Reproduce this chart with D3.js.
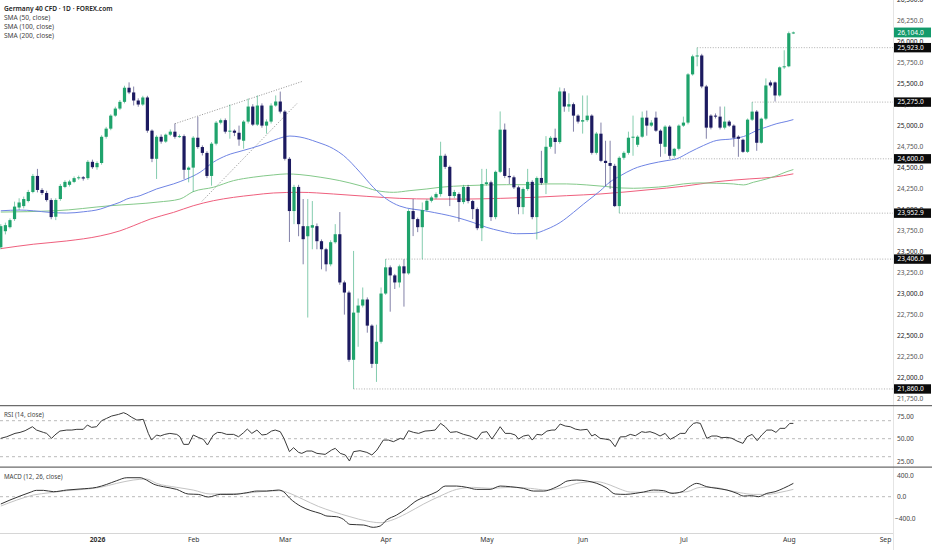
<!DOCTYPE html>
<html lang="en">
<head>
<meta charset="UTF-8">
<title>Germany 40 CFD · 1D · FOREX.com</title>
<script src="https://cdn.jsdelivr.net/npm/d3@7"></script>
<style>
  html, body { margin: 0; padding: 0; background: #fff; }
  svg { display: block; font-family: "Noto Sans", "Open Sans", sans-serif; }
</style>
</head>
<body>
<div id="chart"></div>
<script>
// daily bars, [open, high, low, close], first bar = 1 Dec 2025
var ohlc = [
  [23547,23822,23523,23798],[23738,23840,23700,23810],[23786,23890,23770,23870],[23882,24090,23860,24031],
  [24020,24130,23990,24080],[24037,24150,24010,24121],[24097,24230,24080,24205],[24205,24420,24190,24396],
  [24396,24480,24200,24229],[24229,24250,24170,24193],[24193,24220,24090,24109],[24109,24130,23880,23906],
  [23910,24130,23870,24110],[24121,24300,24100,24277],[24265,24345,24250,24325],[24290,24350,24270,24330],
  [24325,24390,24310,24370],[24370,24400,24350,24380],[24380,24395,24340,24365],[24370,24585,24350,24564],
  [24564,24590,24480,24500],[24500,24570,24470,24550],[24550,24880,24530,24862],[24862,24980,24840,24959],
  [24959,25130,24940,25114],[25114,25220,25100,25198],[25198,25300,25180,25278],[25278,25470,25260,25446],
  [25446,25510,25370,25390],[25390,25460,25235,25294],[25294,25320,25220,25246],[25246,25350,25230,25330],
  [25330,25350,24910,24935],[24935,24950,24560,24600],[24600,24880,24360,24862],[24862,24890,24780,24805],
  [24805,24900,24790,24887],[24887,24950,24870,24923],[24923,25020,24840,24862],[24862,24890,24850,24870],
  [24870,24890,24360,24469],[24469,24510,24320,24495],[24495,24870,24205,24851],[24851,25100,24720,24740],
  [24740,24760,24640,24670],[24670,24690,24370,24396],[24396,24800,24280,24780],[24780,25050,24760,25030],
  [25030,25079,25010,25060],[25060,25080,24900,24923],[24923,25246,24839,24935],[24935,24950,24870,24910],
  [24910,24995,24755,24830],[24815,25060,24720,25043],[25043,25318,25020,25222],[25222,25250,24990,25007],
  [25007,25354,24990,25234],[25234,25260,24970,24995],[24995,25070,24900,25043],[25043,25260,25020,25234],
  [25234,25354,25220,25282],[25282,25400,25140,25162],[25162,25180,24580,24600],[24600,24620,23610,23978],
  [23978,24290,23822,24265],[24265,24290,23678,23822],[23798,24121,23344,23643],[23678,24121,22710,23798],
  [23780,24097,23523,23810],[23798,23830,23523,23619],[23619,23640,23284,23523],[23523,23540,23260,23344],
  [23344,23630,23320,23607],[23607,23822,23590,23702],[23702,23966,23100,23128],[23128,23150,22745,23008],
  [23008,23030,22183,22207],[22207,23503,21860,22769],[22769,22937,22362,22853],[22853,23068,22830,22925],
  [22925,22950,22530,22614],[22614,22630,22110,22159],[22159,22625,21944,22422],[22422,23068,22400,22996],
  [22996,23406,22980,23308],[23308,23330,22780,23212],[23212,23230,23050,23128],[23128,23340,23068,23320],
  [23320,23404,22840,23236],[23236,24000,23220,23978],[23978,24121,23680,23882],[23882,23900,23727,23786],
  [23786,24080,23404,23990],[23990,24120,23970,24100],[24100,24160,24080,24140],[24140,24200,24120,24180],
  [24180,24803,24150,24636],[24636,24660,24480,24504],[24504,24520,24037,24157],[24157,24230,24130,24205],
  [24180,24200,23850,24085],[24085,24290,24060,24265],[24265,24290,24070,24097],[24097,24110,23882,24001],
  [24001,24020,23750,23774],[23774,24480,23620,24300],[24300,24480,24280,24320],[24320,24340,23860,23906],
  [23906,24460,23880,24445],[24445,25164,24430,24947],[24947,25020,24370,24396],[24396,24490,24300,24380],
  [24380,24400,24240,24260],[24260,24280,23940,24025],[24025,24260,23940,24240],[24240,24480,24220,24325],
  [24325,24345,23880,23906],[23906,24390,23640,24372],[24372,24695,24290,24313],[24313,24870,24180,24743],
  [24743,24870,24720,24850],[24850,24959,24660,24800],[24800,25450,24780,25402],[25402,25440,25160,25222],
  [25222,25380,25160,25250],[25250,25270,24923,25114],[25114,25130,25020,25043],[25043,25354,24900,25060],
  [25060,25354,25040,25114],[25114,25130,24650,24671],[24671,24920,24650,24900],[24899,25031,24560,24576],
  [24576,24815,24277,24550],[24550,24815,24241,24516],[24516,24540,24025,24037],[24037,24630,23952.9,24612],
  [24612,24690,24590,24671],[24671,24923,24650,24851],[24851,25114,24636,24863],[24767,24880,24740,24863],
  [24863,25162,24850,25090],[25090,25174,24875,24995],[24995,25060,24980,25031],[25090,25162,24920,24935],
  [24935,24950,24624,24779],[24743,25000,24660,24983],[24983,25000,24600,24636],[24636,24730,24612,24719],
  [24719,25010,24700,24995],[24995,25102,24980,25031],[25031,25620,25010,25605],[25605,25840,25590,25820],
  [25820,25923,25701,25830],[25830,25850,25440,25461],[25461,25480,24839,24971],[25114,25130,24950,24971],
  [25114,25140,25080,25102],[25102,25222,24950,24971],[24971,25222,24950,25043],[25043,25060,24980,24995],
  [24995,25010,24743,24851],[24863,24880,24624,24839],[24827,24840,24670,24683],[24683,25080,24670,25066],
  [25066,25275,25050,25162],[25162,25180,24695,24791],[24791,25090,24780,25078],[25078,25557,25060,25473],
  [25509,25533,25450,25473],[25509,25520,25282,25354],[25354,25700,25340,25689],[25689,25892,25670,25701],
  [25701,26115,25690,26095],[26095,26115,26085,26104]
];

// moving averages, [bar index, value]
var sma50 = [[0,23981],[4.2,23990],[7.1,23981],[10.7,23962],[14.4,23954],[18,23969],[21.7,24001],[23.8,24041],
  [26,24082],[27.5,24121],[30.4,24161],[34,24241],[37.7,24301],[40.6,24361],[43.5,24440],[46.4,24560],
  [49.3,24640],[52.9,24699],[56.6,24759],[59.5,24819],[61.7,24859],[63.1,24871],[65.3,24859],[69,24800],
  [72.6,24720],[74.8,24640],[78.4,24440],[81.3,24261],[84.2,24121],[87.1,24037],[93,23977],[99.5,23902],
  [103.1,23842],[106.1,23783],[109,23742],[112.6,23708],[116.2,23711],[119.2,23762],[122.1,23842],[125,23962],
  [127.2,24061],[128.6,24121],[130.8,24217],[133,24325],[135.2,24397],[138.1,24480],[141.7,24540],[145.4,24579],
  [147.5,24600],[150.4,24680],[153.4,24759],[156.3,24819],[159.9,24839],[162.8,24878],[165,24938],[167.2,24979],
  [169.4,25019],[171.6,25046],[173,25067]];
var sma100 = [[0,23966],[11.8,23981],[23.8,24041],[34.3,24085],[39.1,24121],[42,24209],[46.4,24261],[50.8,24340],
  [55.1,24381],[59.5,24408],[62.4,24420],[65.3,24412],[69.7,24381],[74,24340],[78.4,24281],[82.1,24221],
  [85.7,24201],[89.3,24221],[93,24241],[95.9,24261],[101.7,24281],[106.1,24289],[110.4,24292],[114.8,24292],
  [119.2,24301],[123.5,24301],[127.9,24289],[132.3,24269],[135.2,24253],[138.1,24249],[141.7,24257],[145.4,24273],
  [149,24301],[152.6,24313],[156.3,24309],[159.9,24301],[162.1,24289],[164.3,24321],[167.2,24361],[169.4,24400],
  [171.6,24448],[173,24472]];
var sma200 = [[0,23531],[7.1,23583],[14.4,23622],[21.7,23682],[26,23742],[28.9,23802],[32.6,23882],[37.7,23962],
  [42,24041],[46.4,24101],[50.8,24141],[55.1,24169],[59.5,24193],[65.3,24201],[72.6,24181],[79.9,24153],
  [87.1,24129],[94.4,24121],[101.7,24121],[109,24129],[116.2,24141],[123.5,24161],[130.8,24181],[141.7,24233],
  [149,24273],[156.3,24328],[163.5,24361],[168.6,24381],[173,24421]];

// RSI (14) and MACD (12, 26), [bar index, value]
var rsi = [[0,50.4],[1.3,52.2],[3.1,55.9],[4.2,57],[5.3,58.9],[6.9,63.3],[7.8,59.6],[9.3,57],[10,55.9],[11.1,50.4],
  [11.8,54.1],[12.9,58.5],[14.4,59.6],[15.5,59.6],[16.6,60.4],[18,60.4],[18.9,65.2],[19.8,62.6],[20.9,63.3],[22,70],
  [23.1,72.6],[24.2,75.2],[25.7,77],[26.8,78.9],[27.5,77.4],[28.6,73.7],[29.7,70.7],[31.1,71.5],[32.2,55.9],[32.9,48.5],
  [34,54.1],[34.8,53],[35.8,54.8],[36.9,55.9],[38.4,54.8],[39.1,52.2],[39.9,43.7],[41,43.7],[42,54.1],[43.1,51.5],
  [44.2,49.3],[45.1,43],[46.4,54.1],[47.3,57],[48.2,56.7],[49.3,54.8],[50.8,54.8],[51.9,52.2],[53,56.7],[53.8,60.7],
  [54.8,55.9],[55.9,59.6],[57,54.1],[58,54.8],[59.1,58.5],[59.9,59.6],[61,57.8],[61.8,50.4],[63,35.6],[63.9,40],
  [65,34.8],[65.7,33.7],[66.8,36.3],[67.9,36.3],[69,33.7],[70.8,32.6],[72.2,37.4],[73,39.3],[74.1,33.7],[75.2,31.9],
  [76.1,25.2],[77,35.6],[78.4,36.7],[79.9,34.8],[81,31.9],[82.1,37.4],[83.5,48.5],[84.6,48.5],[85.7,46.7],[87.2,50.4],
  [87.9,49.3],[89,58.9],[90.1,57],[91.2,55.9],[92.6,58.5],[93.7,58.9],[94.8,59.6],[96,67],[97,63.3],[98.1,57],
  [99.5,57.8],[101,54.8],[102.4,53],[103.9,49.3],[105,57],[106.1,57.8],[107.2,49.6],[108.3,57.8],[109,63.3],[110.1,55.9],
  [111.2,55.9],[112.3,54.1],[113,49.6],[114.1,53],[115.2,54.1],[116,48.5],[117,54.8],[118.1,54.1],[119.2,58.5],[120.3,59.6],
  [121,59.6],[122.1,66.3],[123.2,64.1],[124.3,63.3],[125.4,60.7],[126.5,59.6],[128,60.4],[129,53],[129.7,54.8],[130.8,50.4],
  [131.9,49.6],[133,48.5],[134.1,41.1],[135.2,52],[136.3,52.2],[137.4,54.8],[138.5,53.3],[139.9,57.8],[140.7,57],[141.7,57.8],
  [142.8,55.9],[143.9,53],[145,55.9],[146.1,49.3],[147.2,52.2],[148.3,55.9],[149.4,55.9],[150.1,61.5],[151.2,67],[151.9,67.8],
  [152.7,67],[154.1,50.4],[155.2,53],[156.3,53],[157.4,51.1],[158.5,51.5],[159.6,50.4],[160.7,47.4],[162,44.8],[162.9,52.2],
  [164,54.8],[165.1,47.8],[166.1,54.1],[167.2,59.6],[168.3,59.6],[169.2,57],[170.1,61.5],[171.2,61.5],[172.2,67],[173,67]];
var macd = [[0,-136],[2,-62],[4.2,12],[6.4,81],[7.8,118],[9.3,118],[11.5,93],[14.4,124],[17.3,143],[20.9,174],
  [23.1,229],[25.3,298],[27.5,353],[30.4,353],[31.8,310],[33.3,236],[35.5,186],[38.4,136],[40.9,50],[43.1,43],
  [45.3,-6],[47.9,43],[50.8,43],[53.7,74],[55.9,105],[58,105],[60.6,124],[61.7,93],[63.1,-31],[65.5,-180],
  [67.7,-260],[69.7,-310],[71.2,-360],[73.3,-372],[74.8,-422],[76.2,-515],[79.2,-527],[81.3,-570],[82.8,-546],[84.2,-434],
  [86.4,-341],[88.6,-217],[90.4,-93],[93,12],[95.2,93],[97,198],[99.5,198],[101.7,174],[103.9,136],[106.8,136],
  [109,198],[111.2,186],[114.1,155],[116.3,105],[118.5,105],[120.6,155],[122.1,217],[123.6,291],[125.7,310],[128,291],
  [130.1,248],[131.2,210],[132.3,160],[134.1,50],[136.3,43],[138.5,62],[140.3,87],[142.5,124],[144.7,112],[146.5,62],
  [148.7,93],[150.1,174],[151.9,248],[154.1,186],[156.3,155],[158.5,124],[160.7,62],[162.1,12],[163.9,19],[165.4,0],
  [167.2,62],[169,93],[170.8,155],[173,248]];
var signal = [[0,-174],[3.5,-62],[7.1,31],[10.7,74],[14.4,112],[18,136],[21.7,174],[25.3,248],[28.9,310],[31.8,329],
  [34,248],[38.4,174],[42,124],[45.7,50],[49.3,56],[52.9,62],[56.6,93],[60.9,112],[63.1,62],[66,-50],
  [69.3,-180],[72.6,-279],[76.2,-372],[79.9,-453],[82.8,-484],[85,-446],[88.6,-310],[92.3,-136],[95.9,12],[99.5,136],
  [103.2,174],[106.8,155],[111.2,174],[115.6,155],[119.2,124],[122.8,174],[126.5,260],[130.1,279],[133,217],[135.2,140],
  [137.4,87],[140.3,81],[143.9,87],[146.8,74],[149.8,93],[152.7,174],[155.6,174],[158.5,124],[161.4,74],[164.3,43],
  [167.2,43],[170.1,81],[173,136]];

// drawn levels: price and the bar they start from
var levels = [[25923,152],[25275,164],[24600,146],[23952.9,135],[23406,84],[21860,77]];
// drawn trend lines, two [bar index, price] ends each
var trendLines = [[[38,25018],[66,25525]], [[43.9,24094],[64.8,25267]]];

var legendLabels = ["Germany 40 CFD · 1D · FOREX.com", "SMA (50, close)", "SMA (100, close)", "SMA (200, close)"];
var priceTicks = d3.range(21750, 26501, 250);
var rsiTicks = [75, 50, 25];
var macdTicks = [400, 0, -400];
var holidays = ["2025-12-25", "2025-12-26", "2026-01-01"];

var width = 932, height = 550, plotRight = 893;
var upColor = "#1fa36c", downColor = "#1c1a60";

// trading days (weekdays without the holidays), running past the last bar to September
var isoDay = d3.utcFormat("%Y-%m-%d");
var days = d3.utcDay.range(new Date("2025-12-01"), new Date("2026-09-02"))
  .filter(function(d) { return d.getUTCDay() % 6 !== 0 && holidays.indexOf(isoDay(d)) < 0; });

var monthTicks = [];
days.forEach(function(d, i) {
  if (i > 0 && d.getUTCMonth() !== days[i - 1].getUTCMonth()) monthTicks.push(i);
});

var x = d3.scaleLinear().domain([0, 193]).range([0.8, 885]);
var y = d3.scaleLinear().domain([21700, 26500]).range([402.4, -0.8]);
var yRsi = d3.scaleLinear().domain([25, 75]).range([461.2, 416.2]);
var yMacd = d3.scaleLinear().domain([-400, 400]).range([518.2, 475.2]);

var svg = d3.select("#chart").append("svg")
  .attr("width", width)
  .attr("height", height);

var defs = svg.append("defs");
defs.append("clipPath").attr("id", "clipMain")
  .append("rect").attr("x", 0).attr("y", 0).attr("width", plotRight).attr("height", 405);
defs.append("clipPath").attr("id", "clipMacd")
  .append("rect").attr("x", 0).attr("y", 468).attr("width", plotRight).attr("height", 65);

// frame lines
svg.append("line").attr("x1", plotRight + 0.5).attr("x2", plotRight + 0.5).attr("y1", 0).attr("y2", 550)
  .attr("stroke", "#e4e4e4");
svg.append("line").attr("x1", 0).attr("x2", plotRight).attr("y1", 533.5).attr("y2", 533.5)
  .attr("stroke", "#d6d6d6");
[405.7, 467.2].forEach(function(yy) {
  svg.append("line").attr("x1", 0).attr("x2", width).attr("y1", yy).attr("y2", yy)
    .attr("stroke", "#6b6b6b").attr("stroke-width", 1.3);
});

var main = svg.append("g").attr("clip-path", "url(#clipMain)");

// horizontal levels
main.selectAll(".level").data(levels).join("line")
  .attr("x1", function(d) { return x(d[1]); })
  .attr("x2", plotRight)
  .attr("y1", function(d) { return y(d[0]); })
  .attr("y2", function(d) { return y(d[0]); })
  .attr("stroke", "#9a9a9a")
  .attr("stroke-width", 0.8)
  .attr("stroke-dasharray", "1,1.6");

// trend lines
main.selectAll(".trend").data(trendLines).join("line")
  .attr("x1", function(d) { return x(d[0][0]); })
  .attr("y1", function(d) { return y(d[0][1]); })
  .attr("x2", function(d) { return x(d[1][0]); })
  .attr("y2", function(d) { return y(d[1][1]); })
  .attr("stroke", "#777")
  .attr("stroke-width", 0.8)
  .attr("stroke-dasharray", "1,1.6");

// moving averages
var maLine = d3.line()
  .x(function(d) { return x(d[0]); })
  .y(function(d) { return y(d[1]); })
  .curve(d3.curveMonotoneX);

[[sma200, "#ef5f7d"], [sma100, "#84c98a"], [sma50, "#6f84e4"]].forEach(function(s) {
  main.append("path").datum(s[0])
    .attr("d", maLine)
    .attr("fill", "none")
    .attr("stroke", s[1])
    .attr("stroke-width", 1);
});

// candles
var candle = main.append("g").selectAll("g").data(ohlc).join("g");

candle.append("line")
  .attr("x1", function(d, i) { return x(i); })
  .attr("x2", function(d, i) { return x(i); })
  .attr("y1", function(d) { return y(d[1]); })
  .attr("y2", function(d) { return y(d[2]); })
  .attr("stroke", function(d) { return d[3] >= d[0] ? upColor : downColor; })
  .attr("stroke-opacity", 0.55)
  .attr("stroke-width", 1);

candle.append("rect")
  .attr("x", function(d, i) { return x(i) - 1.6; })
  .attr("width", 3.2)
  .attr("y", function(d) { return y(Math.max(d[0], d[3])); })
  .attr("height", function(d) { return Math.max(1, Math.abs(y(d[0]) - y(d[3]))); })
  .attr("fill", function(d) { return d[3] >= d[0] ? upColor : downColor; });

// legend
svg.selectAll(".legend").data(legendLabels).join("text")
  .attr("x", 4)
  .attr("y", function(d, i) { return 10.5 + i * 9; })
  .attr("font-size", 6.6)
  .attr("font-weight", function(d, i) { return i === 0 ? 600 : 400; })
  .attr("fill", function(d, i) { return i === 0 ? "#222" : "#444"; })
  .text(function(d) { return d; });

// price axis labels
var fmt = d3.format(",.1f");
svg.selectAll(".ptick").data(priceTicks).join("text")
  .attr("x", 897)
  .attr("y", function(d) { return y(d); })
  .attr("dy", "0.35em")
  .attr("font-size", 6.6)
  .attr("fill", function(d) { return d % 500 === 0 ? "#222" : "#555"; })
  .text(fmt);

// level price tags
var tags = svg.selectAll(".tag").data(levels).join("g")
  .attr("transform", function(d) { return "translate(894," + y(d[0]) + ")"; });
tags.append("rect").attr("x", 0).attr("y", -4.7).attr("width", 37).attr("height", 9.4).attr("fill", "#0b0b0b");
tags.append("text").attr("x", 3.5).attr("dy", "0.35em").attr("font-size", 6.6).attr("fill", "#fff")
  .text(function(d) { return fmt(d[0]); });

// last price tag
var last = ohlc[ohlc.length - 1][3];
var lastTag = svg.append("g").attr("transform", "translate(894," + y(last) + ")");
lastTag.append("rect").attr("x", 0).attr("y", -4.9).attr("width", 37).attr("height", 9.8).attr("fill", "#139a6b");
lastTag.append("text").attr("x", 3.5).attr("dy", "0.35em").attr("font-size", 6.6).attr("fill", "#fff")
  .text(fmt(last));

// RSI panel
svg.append("text").attr("x", 4).attr("y", 417).attr("font-size", 6.2).attr("fill", "#444").text("RSI (14, close)");
svg.selectAll(".rsiband").data([70, 50, 30]).join("line")
  .attr("x1", 0).attr("x2", plotRight)
  .attr("y1", function(d) { return yRsi(d); })
  .attr("y2", function(d) { return yRsi(d); })
  .attr("stroke", "#a8a8a8").attr("stroke-width", 0.8).attr("stroke-dasharray", "3,3");
svg.append("path").datum(rsi)
  .attr("d", d3.line().x(function(d) { return x(d[0]); }).y(function(d) { return yRsi(d[1]); }))
  .attr("fill", "none").attr("stroke", "#3a3a3a").attr("stroke-width", 1);
svg.selectAll(".rtick").data(rsiTicks).join("text")
  .attr("x", 897).attr("y", function(d) { return yRsi(d); }).attr("dy", "0.35em")
  .attr("font-size", 6.6).attr("fill", "#444")
  .text(d3.format(".2f"));

// MACD panel
svg.append("text").attr("x", 4).attr("y", 478.5).attr("font-size", 6.2).attr("fill", "#444").text("MACD (12, 26, close)");
svg.append("line").attr("x1", 0).attr("x2", plotRight).attr("y1", yMacd(0)).attr("y2", yMacd(0))
  .attr("stroke", "#a8a8a8").attr("stroke-width", 0.8).attr("stroke-dasharray", "3,3");
var macdLine = d3.line().x(function(d) { return x(d[0]); }).y(function(d) { return yMacd(d[1]); })
  .curve(d3.curveMonotoneX);
var macdG = svg.append("g").attr("clip-path", "url(#clipMacd)");
macdG.append("path").datum(signal).attr("d", macdLine)
  .attr("fill", "none").attr("stroke", "#c4c4c4").attr("stroke-width", 1);
macdG.append("path").datum(macd).attr("d", macdLine)
  .attr("fill", "none").attr("stroke", "#333").attr("stroke-width", 1);
svg.selectAll(".mtick").data(macdTicks).join("text")
  .attr("x", function(d) { return d < 0 ? 895 : 897; }).attr("y", function(d) { return yMacd(d); }).attr("dy", "0.35em")
  .attr("font-size", 6.6).attr("fill", "#444")
  .text(d3.format(".1f"));

// time axis
var timeFmt = d3.utcFormat("%b");
var xAxis = d3.axisBottom(x)
  .tickValues(monthTicks)
  .tickSize(0)
  .tickPadding(0)
  .tickFormat(function(i) { return days[i].getUTCMonth() === 0 ? String(days[i].getUTCFullYear()) : timeFmt(days[i]); });

var gx = svg.append("g").attr("transform", "translate(0,537)").call(xAxis);
gx.select(".domain").remove();
gx.selectAll("text")
  .attr("font-size", 6.8)
  .attr("font-family", "Noto Sans, Open Sans, sans-serif")
  .attr("fill", "#333")
  .attr("font-weight", function(i) { return days[i].getUTCMonth() === 0 ? 700 : 400; });
</script>
</body>
</html>
